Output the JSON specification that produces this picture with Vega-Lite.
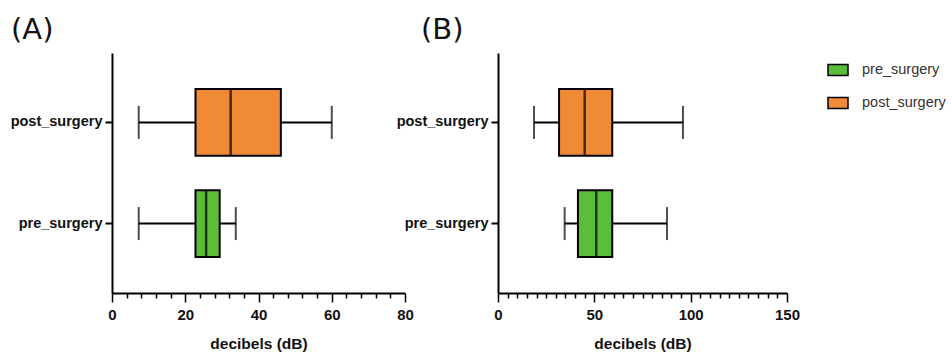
{
  "$schema": "https://vega.github.io/schema/vega-lite/v6.json",
  "background": "white",
  "padding": {"left": 10, "top": 15, "right": 5, "bottom": 5},
  "bounds": "flush",
  "spacing": 93,
  "datasets": {
    "a": [
      {"group": "post_surgery", "low": 7.3, "q1": 22.8, "median": 32.4, "q3": 46.1, "high": 60.0},
      {"group": "pre_surgery", "low": 7.3, "q1": 22.8, "median": 25.7, "q3": 29.4, "high": 33.8}
    ],
    "b": [
      {"group": "post_surgery", "low": 18.7, "q1": 31.7, "median": 45.0, "q3": 59.3, "high": 96.0},
      {"group": "pre_surgery", "low": 34.6, "q1": 41.5, "median": 51.0, "q3": 59.3, "high": 87.7}
    ]
  },
  "config": {
    "view": {"stroke": null},
    "font": "Liberation Sans",
    "axis": {
      "grid": false,
      "domainColor": "black",
      "domainWidth": 2,
      "tickColor": "black",
      "tickWidth": 1.5,
      "labelFont": "Liberation Sans",
      "labelFontWeight": "bold",
      "labelColor": "#111",
      "titleFont": "Liberation Sans",
      "titleFontWeight": "bold",
      "titleColor": "#111"
    },
    "axisY": {
      "tickSize": 7,
      "tickWidth": 2,
      "labelFontSize": 14.5,
      "labelPadding": 3,
      "title": null
    },
    "axisX": {
      "labelFontSize": 15,
      "titleFontSize": 15.5,
      "labelFlush": false,
      "labelOverlap": false,
      "labelPadding": 5,
      "titlePadding": 14,
      "tickCount": 100
    },
    "title": {
      "font": "DejaVu Sans",
      "fontSize": 29,
      "fontWeight": "normal",
      "color": "#111",
      "anchor": "start",
      "frame": "group",
      "baseline": "alphabetic",
      "offset": 8.5
    },
    "legend": {
      "orient": "right",
      "offset": 21,
      "padding": 6,
      "title": null,
      "symbolType": "M-1,-0.55H1V0.55H-1Z",
      "symbolSize": 400,
      "symbolStrokeColor": "black",
      "symbolStrokeWidth": 1.5,
      "labelFont": "Liberation Sans",
      "labelFontSize": 14.5,
      "labelColor": "#333",
      "labelOffset": 13,
      "rowPadding": 13
    }
  },
  "resolve": {"scale": {"color": "shared"}},
  "hconcat": [
    {
      "width": 293,
      "height": 240,
      "title": {"text": "(A)", "dx": -101},
      "data": {"name": "a"},
      "encoding": {
        "y": {
          "field": "group",
          "type": "nominal",
          "sort": ["post_surgery", "pre_surgery"],
          "scale": {"paddingInner": 0.34, "paddingOuter": 0.356}
        }
      },
      "layer": [
        {
          "mark": {"type": "rule", "stroke": "black", "strokeWidth": 2},
          "encoding": {
            "x": {
              "field": "low",
              "type": "quantitative",
              "scale": {"domain": [0, 80], "nice": false},
              "title": "decibels (dB)",
              "axis": {
                "values": [0, 4, 8, 12, 16, 20, 24, 28, 32, 36, 40, 44, 48, 52, 56, 60, 64, 68, 72, 76, 80],
                "tickCount": 100,
                "labelExpr": "datum.value % 20 === 0 ? datum.label : ''",
                "tickSize": {"condition": {"test": "datum.value % 20 === 0", "value": 9}, "value": 5}
              }
            },
            "x2": {"field": "high"}
          }
        },
        {
          "mark": {"type": "bar", "stroke": "black", "strokeWidth": 2},
          "encoding": {
            "x": {"field": "q1", "type": "quantitative"},
            "x2": {"field": "q3"},
            "color": {
              "field": "group",
              "type": "nominal",
              "scale": {"domain": ["pre_surgery", "post_surgery"], "range": ["#5CBD3A", "#F08A36"]}
            }
          }
        },
        {
          "mark": {"type": "tick", "color": "black", "thickness": 2, "size": 33},
          "encoding": {"x": {"field": "low", "type": "quantitative"}}
        },
        {
          "mark": {"type": "tick", "color": "black", "thickness": 2, "size": 33},
          "encoding": {"x": {"field": "high", "type": "quantitative"}}
        },
        {
          "mark": {"type": "tick", "color": "black", "thickness": 2.5, "size": 67},
          "encoding": {"x": {"field": "median", "type": "quantitative"}}
        }
      ]
    },
    {
      "width": 289,
      "height": 240,
      "title": {"text": "(B)", "dx": -77},
      "data": {"name": "b"},
      "encoding": {
        "y": {
          "field": "group",
          "type": "nominal",
          "sort": ["post_surgery", "pre_surgery"],
          "scale": {"paddingInner": 0.34, "paddingOuter": 0.356}
        }
      },
      "layer": [
        {
          "mark": {"type": "rule", "stroke": "black", "strokeWidth": 2},
          "encoding": {
            "x": {
              "field": "low",
              "type": "quantitative",
              "scale": {"domain": [0, 150], "nice": false},
              "title": "decibels (dB)",
              "axis": {
                "values": [0, 5, 10, 15, 20, 25, 30, 35, 40, 45, 50, 55, 60, 65, 70, 75, 80, 85, 90, 95, 100, 105, 110, 115, 120, 125, 130, 135, 140, 145, 150],
                "tickCount": 100,
                "labelExpr": "datum.value % 50 === 0 ? datum.label : ''",
                "tickSize": {"condition": {"test": "datum.value % 50 === 0", "value": 9}, "value": 5}
              }
            },
            "x2": {"field": "high"}
          }
        },
        {
          "mark": {"type": "bar", "stroke": "black", "strokeWidth": 2},
          "encoding": {
            "x": {"field": "q1", "type": "quantitative"},
            "x2": {"field": "q3"},
            "color": {"field": "group", "type": "nominal"}
          }
        },
        {
          "mark": {"type": "tick", "color": "black", "thickness": 2, "size": 33},
          "encoding": {"x": {"field": "low", "type": "quantitative"}}
        },
        {
          "mark": {"type": "tick", "color": "black", "thickness": 2, "size": 33},
          "encoding": {"x": {"field": "high", "type": "quantitative"}}
        },
        {
          "mark": {"type": "tick", "color": "black", "thickness": 2.5, "size": 67},
          "encoding": {"x": {"field": "median", "type": "quantitative"}}
        }
      ]
    }
  ]
}
